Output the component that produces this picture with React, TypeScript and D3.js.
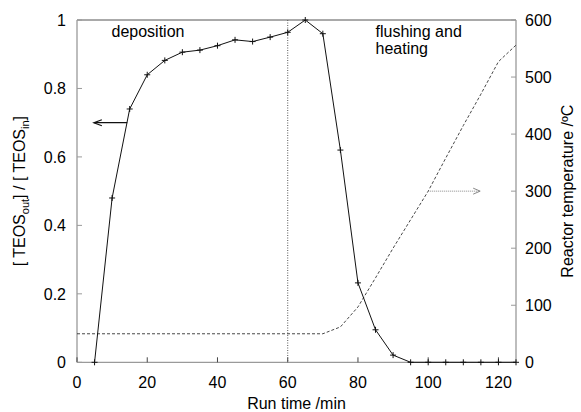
import React from "react";
import * as d3 from "d3";

const teosTime = [5, 10, 15, 20, 25, 30, 35, 40, 45, 50, 55, 60, 65, 70, 75, 80, 85, 90, 95, 100, 105, 110, 115, 120, 125];
const teosRatio = [0, 0.48, 0.74, 0.84, 0.882, 0.906, 0.912, 0.925, 0.942, 0.937, 0.95, 0.964, 1.0, 0.96, 0.62, 0.232, 0.095, 0.021, 0, 0, 0, 0, 0, 0, 0];

const tempTime = [0, 70, 75, 80, 85, 90, 95, 100, 105, 110, 115, 120, 125];
const tempValue = [50, 50, 62, 97, 148, 200, 250, 300, 358, 415, 470, 527, 556];

const xTicks = [0, 20, 40, 60, 80, 100, 120];
const yLeftTicks = [0, 0.2, 0.4, 0.6, 0.8, 1];
const yRightTicks = [0, 100, 200, 300, 400, 500, 600];

const W = 581;
const H = 412;
const L = 77;
const R = 516;
const T = 20;
const B = 362.3;

const FONT = "'Liberation Sans', Arial, Helvetica, sans-serif";

export default function App() {
  const x = d3.scaleLinear().domain([0, 125]).range([L, R]);
  const yL = d3.scaleLinear().domain([0, 1]).range([B, T]);
  const yR = d3.scaleLinear().domain([0, 600]).range([B, T]);

  const teosLine = d3
    .line<number>()
    .x((_, i) => x(teosTime[i]))
    .y((d) => yL(d))(teosRatio) as string;

  const tempLine = d3
    .line<number>()
    .x((_, i) => x(tempTime[i]))
    .y((d) => yR(d))(tempValue) as string;

  const axisGray = "#9a9a9a";
  const tickLen = 5;

  // arrows (annotation positions in data units)
  const la = { x1: 14.3, x2: 4.8, y: 0.7 };
  const ra = { x1: 100, x2: 114.8, y: 300 };

  return (
    <svg
      width={W}
      height={H}
      style={{ position: "absolute", left: 0, top: 0, background: "#fff" }}
      fontFamily={FONT}
    >
      <rect x={0} y={0} width={W} height={H} fill="#fff" />

      {/* top border */}
      <line x1={L} x2={R} y1={T} y2={T} stroke="#555" strokeWidth={1} />
      {/* axes */}
      <line x1={L} x2={L} y1={T} y2={B} stroke={axisGray} strokeWidth={1.3} />
      <line x1={R} x2={R} y1={T} y2={B} stroke={axisGray} strokeWidth={1.3} />
      <line x1={L} x2={R} y1={B} y2={B} stroke={axisGray} strokeWidth={1.3} />

      {/* x ticks */}
      {xTicks.map((t) => (
        <g key={"xt" + t}>
          <line x1={x(t)} x2={x(t)} y1={B} y2={B - tickLen} stroke="#444" strokeWidth={1} />
          <text x={x(t)} y={388} textAnchor="middle" fontSize={16} fill="#000">
            {t}
          </text>
        </g>
      ))}
      {/* left ticks */}
      {yLeftTicks.map((t) => (
        <g key={"yl" + t}>
          <line x1={L} x2={L + tickLen} y1={yL(t)} y2={yL(t)} stroke={axisGray} strokeWidth={1} />
          <text x={66} y={yL(t) + 6} textAnchor="end" fontSize={16} fill="#000">
            {t}
          </text>
        </g>
      ))}
      {/* right ticks */}
      {yRightTicks.map((t) => (
        <g key={"yr" + t}>
          <line x1={R} x2={R - tickLen} y1={yR(t)} y2={yR(t)} stroke={axisGray} strokeWidth={1} />
          <text x={525} y={yR(t) + 6} textAnchor="start" fontSize={16} fill="#000">
            {t}
          </text>
        </g>
      ))}

      {/* vertical dotted line at 60 */}
      <line
        x1={x(60)}
        x2={x(60)}
        y1={T}
        y2={B}
        stroke="#555"
        strokeWidth={1}
        strokeDasharray="1,1.5"
      />

      {/* temperature dashed line */}
      <path d={tempLine} fill="none" stroke="#333" strokeWidth={0.9} strokeDasharray="3,2" />

      {/* TEOS line */}
      <path d={teosLine} fill="none" stroke="#111" strokeWidth={1} />
      {teosRatio.map((v, i) => (
        <g key={"m" + i} stroke="#111" strokeWidth={1}>
          <line x1={x(teosTime[i]) - 3} x2={x(teosTime[i]) + 3} y1={yL(v)} y2={yL(v)} />
          <line x1={x(teosTime[i])} x2={x(teosTime[i])} y1={yL(v) - 3} y2={yL(v) + 3} />
        </g>
      ))}

      {/* left arrow */}
      <g stroke="#111" strokeWidth={1.2} fill="none">
        <line x1={x(la.x1)} x2={x(la.x2)} y1={yL(la.y)} y2={yL(la.y)} />
        <polyline
          points={`${x(la.x2) + 8},${yL(la.y) - 3} ${x(la.x2)},${yL(la.y)} ${x(la.x2) + 8},${yL(la.y) + 3}`}
        />
      </g>
      {/* right arrow */}
      <g stroke="#888" strokeWidth={1} fill="none">
        <line x1={x(ra.x1)} x2={x(ra.x2)} y1={yR(ra.y)} y2={yR(ra.y)} strokeDasharray="1,1" />
        <polyline
          points={`${x(ra.x2) - 7},${yR(ra.y) - 3} ${x(ra.x2)},${yR(ra.y)} ${x(ra.x2) - 7},${yR(ra.y) + 3}`}
        />
      </g>

      {/* annotations */}
      <text x={111.5} y={36.5} fontSize={16} fill="#000">
        deposition
      </text>
      <text x={375.5} y={36.5} fontSize={16} fill="#000">
        flushing and
      </text>
      <text x={375.5} y={53.5} fontSize={16} fill="#000">
        heating
      </text>

      {/* axis labels */}
      <text x={(L + R) / 2} y={409} textAnchor="middle" fontSize={16} fill="#000">
        Run time /min
      </text>
      <text
        transform={`translate(24.5, ${(T + B) / 2}) rotate(-90)`}
        textAnchor="middle"
        fontSize={16}
        fill="#000"
      >
        [ TEOS
        <tspan fontSize={11} dy={4}>out</tspan>
        <tspan dy={-4}>] / [ TEOS</tspan>
        <tspan fontSize={11} dy={4}>in</tspan>
        <tspan dy={-4}>]</tspan>
      </text>
      <text
        transform={`translate(573, ${(T + B) / 2}) rotate(-90)`}
        textAnchor="middle"
        fontSize={16}
        fill="#000"
      >
        Reactor temperature /ºC
      </text>
    </svg>
  );
}
